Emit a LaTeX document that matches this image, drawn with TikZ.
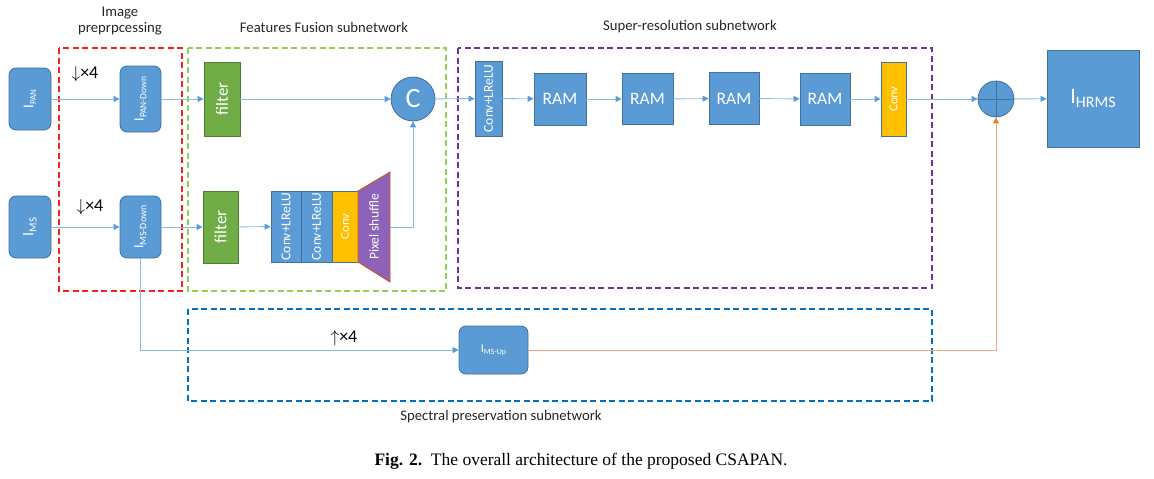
\documentclass[tikz,border=0pt]{standalone}
\usepackage{fontspec}
\setmainfont{Carlito}
\newfontfamily\capfont{Liberation Serif}
\usetikzlibrary{arrows.meta}
\definecolor{bxblue}{RGB}{91,155,213}
\definecolor{bxedge}{RGB}{65,113,156}
\definecolor{lnblue}{RGB}{140,185,228}
\definecolor{fgreen}{RGB}{112,173,71}
\definecolor{fgedge}{RGB}{80,126,50}
\definecolor{cyellow}{RGB}{255,192,0}
\definecolor{ppurple}{RGB}{143,98,186}
\definecolor{pedge}{RGB}{197,90,17}
\definecolor{dred}{RGB}{250,30,30}
\definecolor{dgreen}{RGB}{146,208,80}
\definecolor{dpurple}{RGB}{112,48,160}
\definecolor{dblue}{RGB}{0,112,192}
\definecolor{orline}{RGB}{240,170,125}
\definecolor{ortip}{RGB}{237,125,49}
\newcommand\Isub[3]{{\fontsize{#1}{#1}\selectfont I}{\fontsize{#2}{#2}\selectfont\raisebox{-0.3em}{#3}}}
\newcommand\fs[1]{\fontsize{#1}{#1}\selectfont}
\tikzset{
  box/.style={draw=bxedge, fill=bxblue, text=white, line width=0.8pt, inner sep=0pt, align=center},
  rbox/.style={box, rounded corners=7pt},
  filt/.style={draw=fgedge, fill=fgreen, text=white, line width=0.8pt, inner sep=0pt, rotate=90, font=\fs{17}},
  convy/.style={draw=bxedge, fill=cyellow, text=white, line width=0.8pt, inner sep=0pt, rotate=90},
  region/.style={line width=1.5pt, dash pattern=on 6pt off 3.5pt},
  arr/.style={draw=lnblue, line width=0.9pt, -{Triangle[length=6pt,width=6pt,color=bxblue]}},
  orarr/.style={draw=orline, line width=0.9pt, -{Triangle[length=6pt,width=6pt,color=ortip]}},
  lbl/.style={font=\fs{14.7}, text=black!85, align=center, inner sep=0pt},
  scl/.style={font=\fs{18}, inner sep=0pt},
}
\begin{document}
\begin{tikzpicture}[x=1pt,y=-1pt]
\useasboundingbox (0,0) rectangle (1154,479);
% regions
\draw[region, draw=dred] (59,48) rectangle (182,291);
\draw[region, draw=dgreen] (188,48) rectangle (446,291);
\draw[region, draw=dpurple] (458,48) rectangle (932,288);
\draw[region, draw=dblue] (188,309) rectangle (932,401);
% region labels
\node[lbl, text height=11pt] (lpre) at (120,28) {Image\\[1pt]preprpcessing};
\node[lbl] (lff) at (324,27) {Features Fusion subnetwork};
\node[lbl] (lsr) at (690,27) {Super-resolution subnetwork};
\node[lbl] (lsp) at (501,417) {Spectral preservation subnetwork};
% nodes
\node[rbox, rotate=90, minimum width=62, minimum height=42] (ipan) at (30,99) {\Isub{15}{9}{PAN}};
\node[rbox, rotate=90, minimum width=62, minimum height=42] (ims) at (30,227) {\Isub{16}{11}{MS}};
\node[rbox, rotate=90, minimum width=66, minimum height=41] (ipd) at (140.5,99) {\Isub{14}{9.5}{PAN-Down}};
\node[rbox, rotate=90, minimum width=62, minimum height=41] (imd) at (140.5,227) {\Isub{14}{10}{MS-Down}};
\node[scl] (d1) at (85,74) {$\downarrow$×4};
\node[scl] (d2) at (90,207) {$\downarrow$×4};
\node[filt, minimum width=74, minimum height=36] (f1) at (222,99) {filter};
\node[filt, minimum width=72, minimum height=35] (f2) at (220.5,227) {filter};
\node[circle, draw=bxedge, fill=bxblue, text=white, line width=0.8pt, minimum size=44, inner sep=0pt, font=\fs{28}] (c) at (413,99) {C};
\node[box, rotate=90, minimum width=71, minimum height=30, font=\fs{13.5}] (cl1) at (286,226.5) {Conv+LReLU};
\node[box, rotate=90, minimum width=71, minimum height=31, font=\fs{13.5}] (cl2) at (316.5,226.5) {Conv+LReLU};
\node[convy, minimum width=71, minimum height=26, font=\fs{12.5}] (cv1) at (345,226.5) {Conv};
\draw[draw=pedge, fill=ppurple, line width=0.8pt] (358,191) -- (390,172) -- (390,282) -- (358,262) -- cycle;
\node[rotate=90, minimum width=110, minimum height=32, inner sep=0pt, text=white, font=\fs{13.5}] (ps) at (374,227) {Pixel shuffle};
\node[box, rotate=90, minimum width=75, minimum height=27, font=\fs{13.5}] (sr1) at (488.5,98.5) {Conv+LReLU};
\node[box, minimum width=52, minimum height=52, font=\fs{17.5}] (ram1) at (560,99) {RAM};
\node[box, minimum width=51, minimum height=51, font=\fs{17.5}] (ram2) at (647.5,99) {RAM};
\node[box, minimum width=50, minimum height=52, font=\fs{17.5}] (ram3) at (734,98.5) {RAM};
\node[box, minimum width=50, minimum height=52, font=\fs{17.5}] (ram4) at (825,99) {RAM};
\node[convy, minimum width=74, minimum height=25, font=\fs{12.5}] (cv2) at (893.5,99) {Conv};
\node[circle, draw=bxedge, fill=bxblue, line width=0.8pt, minimum size=36, inner sep=0pt] (plus) at (996,99) {};
\draw[bxedge, line width=0.8pt] (plus.north) -- (plus.south) (plus.west) -- (plus.east);
\node[box, minimum width=92, minimum height=97] (hrms) at (1093,98.5) {\Isub{22}{16}{HRMS}};
\node[rbox, minimum width=69, minimum height=48] (msup) at (493.5,350) {\Isub{12}{8}{MS-Up}};
\node[scl] (u1) at (344,338) {$\uparrow$×4};
% connectors
\draw[arr] (ipan) -- (ipd);
\draw[arr] (ims) -- (imd);
\draw[arr] (ipd) -- (f1);
\draw[arr] (imd) -- (f2);
\draw[arr] (f1) -- (c);
\draw[arr] (f2) -- (cl1);
\draw[arr] (ps.south) -| (c);
\draw[arr] (c) -- (sr1);
\draw[arr] (sr1) -- (ram1);
\draw[arr] (ram1) -- (ram2);
\draw[arr] (ram2) -- (ram3);
\draw[arr] (ram3) -- (ram4);
\draw[arr] (ram4) -- (cv2);
\draw[arr] (cv2) -- (plus);
\draw[arr] (plus) -- (hrms);
\draw[arr] (imd.west) |- (msup);
\draw[orarr] (msup) -| (plus);
% caption
\node[inner sep=0pt, font=\capfont\fs{17.5}] (cap) at (581,461) {\textbf{Fig. 2.}\ \ The overall architecture of the proposed CSAPAN.};
\end{tikzpicture}
\end{document}
